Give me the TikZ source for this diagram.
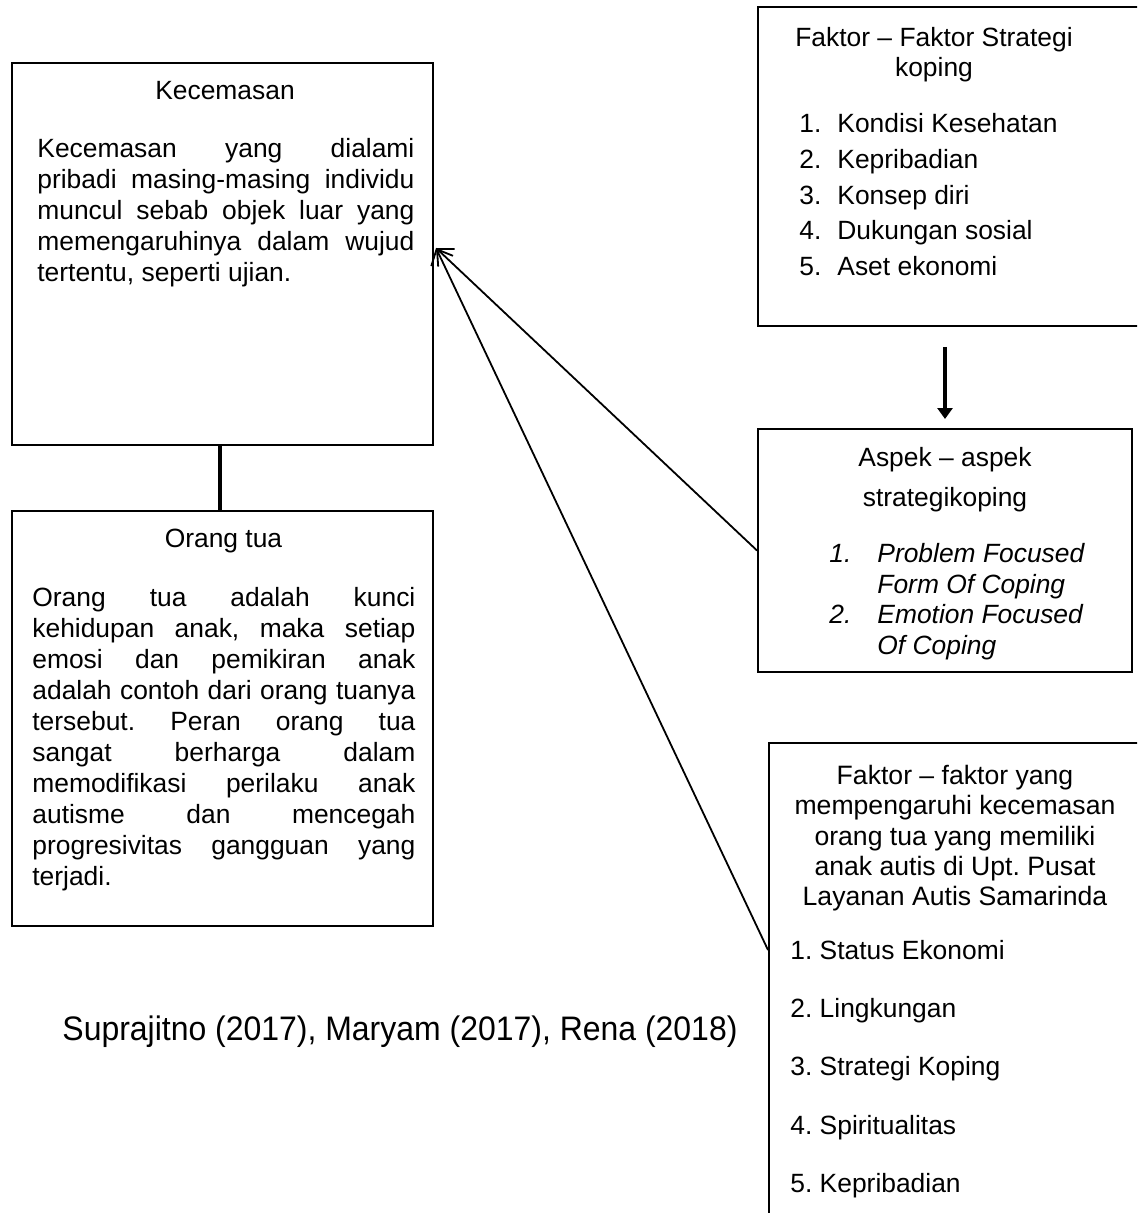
\documentclass[tikz,border=0pt]{standalone}
\usepackage{fontspec}
\usepackage{graphicx}
\setmainfont{Liberation Sans}
\usetikzlibrary{arrows.meta,calc}
\newcommand\jka[1]{\makebox[188.5pt][s]{#1}}
\newcommand\jkb[1]{\makebox[191.5pt][s]{#1}}
\frenchspacing
\begin{document}
\begin{tikzpicture}[x=0.5pt,y=-0.5pt,
  box/.style={draw, line width=1pt, inner sep=0pt, anchor=north west},
  txt/.style={inner sep=0pt, font=\fontsize{13.2}{15.5}\selectfont},
  diag/.style={line width=0.9pt, -{Straight Barb[length=6.5pt,width=12pt,line width=0.9pt]}},
  thickarrow/.style={line width=1.8pt, -{Triangle[length=5.5pt,width=7.5pt]}}]
\path[use as bounding box] (0,0) rectangle (1137,1213);
\clip (0,0) rectangle (1137,1213);

% boxes
\node[box, minimum width=210.5pt, minimum height=191pt] (kec) at (11,62) {};
\node[box, minimum width=210.5pt, minimum height=207.5pt] (ortu) at (11,510) {};
\node[box, minimum width=206.5pt, minimum height=159.5pt] (fs) at (757,6) {};
\node[box, minimum width=187pt, minimum height=121.5pt] (aspek) at (757,428) {};
\node[box, minimum width=200pt, minimum height=260pt] (fk) at (768,742) {};

% Kecemasan
\node[txt, anchor=base] (kectitle) at (225,99.5) {Kecemasan};
\node[txt, anchor=north west, align=left] (kecbody) at (37,138) {%
\jka{Kecemasan yang dialami}\\
\jka{pribadi masing-masing individu}\\
\jka{muncul sebab objek luar yang}\\
\jka{memengaruhinya dalam wujud}\\
tertentu, seperti ujian.};

% Orang tua
\node[txt, anchor=base] (ortutitle) at (223.5,547.5) {Orang tua};
\node[txt, anchor=north west, align=left] (ortubody) at (32,587) {%
\jkb{Orang tua adalah kunci}\\
\jkb{kehidupan anak, maka setiap}\\
\jkb{emosi dan pemikiran anak}\\
\jkb{adalah contoh dari orang tuanya}\\
\jkb{tersebut. Peran orang tua}\\
\jkb{sangat berharga dalam}\\
\jkb{memodifikasi perilaku anak}\\
\jkb{autisme dan mencegah}\\
\jkb{progresivitas gangguan yang}\\
terjadi.};

% Faktor strategi koping
\node[txt, anchor=north, align=center, font=\fontsize{13.2}{15}\selectfont] (fstitle) at (934,27) {Faktor – Faktor Strategi\\koping};
\node[txt, anchor=north west, align=left, font=\fontsize{13.2}{17.9}\selectfont] (fslist) at (799,113) {%
\makebox[19pt][l]{1.}Kondisi Kesehatan\\
\makebox[19pt][l]{2.}Kepribadian\\
\makebox[19pt][l]{3.}Konsep diri\\
\makebox[19pt][l]{4.}Dukungan sosial\\
\makebox[19pt][l]{5.}Aset ekonomi};

% Aspek
\node[txt, anchor=north, align=center, font=\fontsize{13.2}{20}\selectfont] (aspektitle) at (945,447) {Aspek – aspek\\strategikoping};
\node[txt, anchor=north west, align=left, font=\fontsize{13.2}{15.35}\selectfont\itshape] (aspeklist) at (829,543) {%
\makebox[24pt][l]{1.}Problem Focused\\
\hspace*{24pt}Form Of Coping\\
\makebox[24pt][l]{2.}Emotion Focused\\
\hspace*{24pt}Of Coping};

% Faktor yang mempengaruhi
\node[txt, anchor=north, align=center, font=\fontsize{13.3}{15.1}\selectfont] (fktitle) at (955,765) {Faktor – faktor yang\\mempengaruhi kecemasan\\orang tua yang memiliki\\anak autis di Upt. Pusat\\Layanan Autis Samarinda};
\node[txt, anchor=north west, align=left, font=\fontsize{13.2}{29.1}\selectfont] (fklist) at (790,940) {%
1. Status Ekonomi\\
2. Lingkungan\\
3. Strategi Koping\\
4. Spiritualitas\\
5. Kepribadian};

% citation
\node[inner sep=0pt] (cite) at (400,1032) {\fontsize{17}{20}\selectfont\scalebox{0.94}[1]{Suprajitno (2017), Maryam (2017), Rena (2018)}};

% connectors
\coordinate (tip) at ($(kec.north east)+(2,186)$);
\coordinate (fkin) at ($(fk.north west)+(0,208)$);
\draw[line width=2pt] ($(kec.south)+(-3,0)$) -- ($(ortu.north)+(-3,0)$);
\draw[thickarrow] ($(aspek.north |- fs.south)+(0,20)$) -- ($(aspek.north)+(0,-9)$);
\draw[diag] (aspek.west) -- (tip);
\draw[diag] (fkin) -- (tip);
\end{tikzpicture}
\end{document}
